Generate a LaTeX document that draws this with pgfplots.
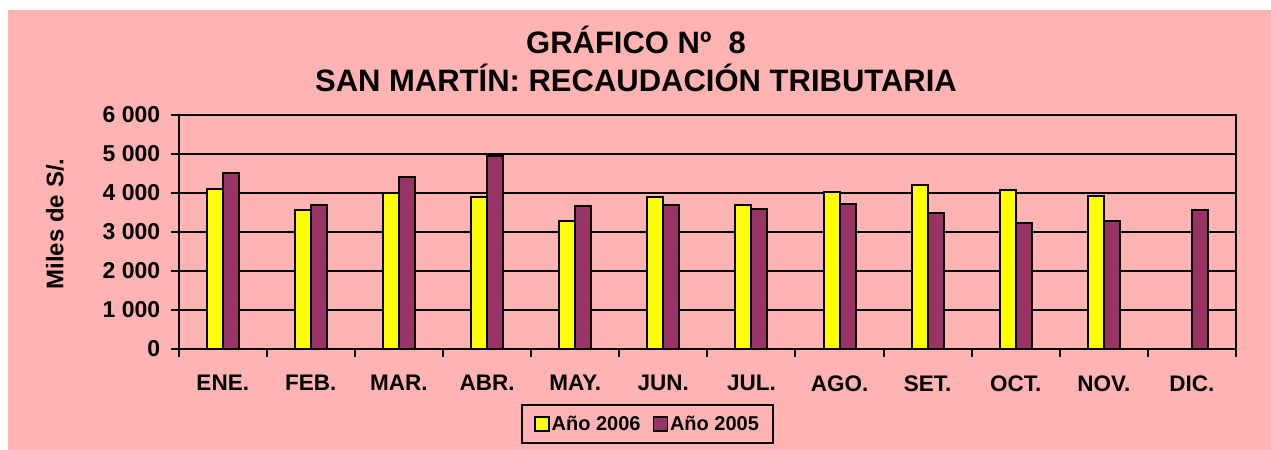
\documentclass[border=0pt]{standalone}
\usepackage{fontspec}
\setmainfont{Liberation Sans}
\usepackage{pgfplots}
\pgfplotsset{compat=1.18}
\definecolor{bgpink}{HTML}{FFB3B3}
\definecolor{barpurple}{HTML}{993366}
\definecolor{baryellow}{HTML}{FFFF00}
\begin{document}
\begin{tikzpicture}[x=1bp,y=1bp]
\useasboundingbox (0,0) rectangle (1271,450);
\fill[bgpink] (8,0) rectangle (1271,440);
\node[font=\fontsize{31bp}{34bp}\selectfont\bfseries] at (636,410) {GRÁFICO Nº\ \ 8};
\node[font=\fontsize{31bp}{34bp}\selectfont\bfseries] at (636,372) {SAN MARTÍN: RECAUDACIÓN TRIBUTARIA};
\node[rotate=90, font=\fontsize{24bp}{28bp}\selectfont\bfseries] at (55,226) {Miles de S/.};
\begin{axis}[
  at={(178.7bp,101bp)}, anchor=south west, scale only axis,
  width=1057.3bp, height=234bp,
  ybar=0pt, bar width=16bp,
  xmin=-0.5, xmax=11.5, ymin=0, ymax=6000,
  xtick={-0.5,0.5,...,11.5}, xticklabels={},
  extra x ticks={0,1,...,11},
  extra x tick labels={ENE.,FEB.,MAR.,ABR.,MAY.,JUN.,JUL.,AGO.,SET.,OCT.,NOV.,DIC.},
  extra x tick style={major tick length=0pt, grid=none},
  ytick={0,1000,...,6000},
  yticklabels={0,1 000,2 000,3 000,4 000,5 000,6 000},
  ymajorgrids, grid style={black, line width=2bp},
  axis line style={black, line width=2bp},
  tick style={black, line width=2bp},
  tick align=outside, major tick length=8bp,
  xtick pos=bottom, ytick pos=left,
  tick label style={font=\fontsize{22.5bp}{26bp}\selectfont\bfseries},
  xticklabel style={yshift=-23bp},
  yticklabel style={xshift=-7bp, font=\fontsize{23bp}{26bp}\selectfont\bfseries},
  legend columns=2,
  legend image code/.code={\draw[#1, draw=black, line width=1.5bp] (0bp,-7bp) rectangle (14bp,7bp);},
  legend style={at={(0.4434,-0.3205)}, anchor=center, draw=black, line width=2bp,
    fill=bgpink, font=\fontsize{20bp}{24bp}\selectfont\bfseries,
    /tikz/every even column/.append style={column sep=10bp},
    inner ysep=9bp, inner xsep=12bp},
]
\addplot[fill=baryellow, draw=black, line width=2bp] coordinates {
 (0,4100) (1,3570) (2,4000) (3,3910) (4,3280) (5,3910) (6,3680) (7,4030) (8,4215) (9,4080) (10,3930)};
\addplot[fill=barpurple, draw=black, line width=2bp] coordinates {
 (0,4510) (1,3680) (2,4410) (3,4960) (4,3670) (5,3700) (6,3590) (7,3710) (8,3490) (9,3240) (10,3270) (11,3560)};
\legend{Año 2006, Año 2005}
\end{axis}
\end{tikzpicture}
\end{document}
